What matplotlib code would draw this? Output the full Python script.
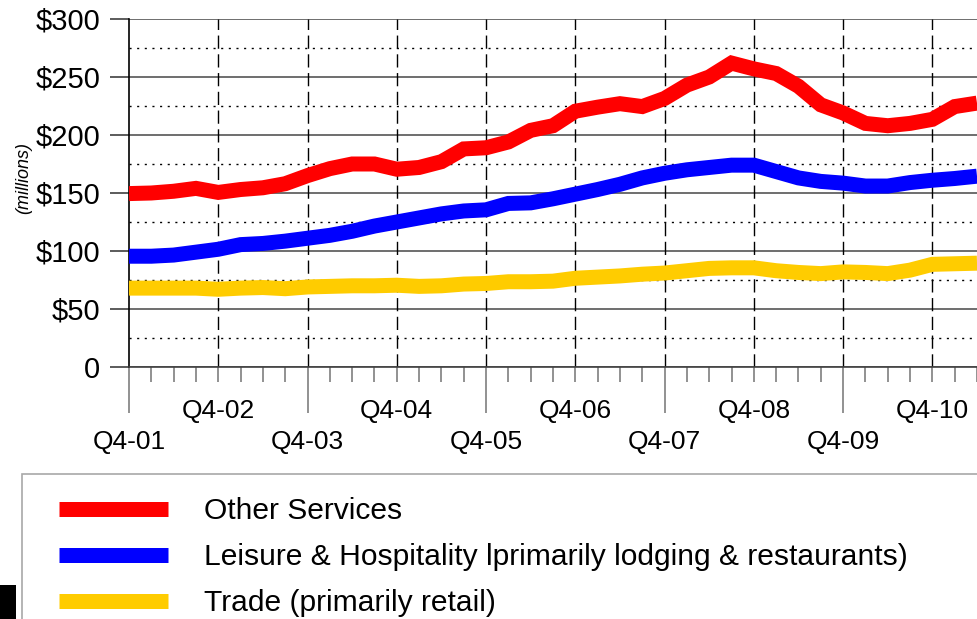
import matplotlib
matplotlib.use("Agg")
import matplotlib.pyplot as plt
from matplotlib.patches import Rectangle

plt.rcParams['font.family'] = ['Liberation Sans', 'DejaVu Sans']

# ---- data ----
quarters = ["Q4-01"] + [f"Q{q}-{y:02d}" for y in range(2, 12) for q in range(1, 5)]
quarters = quarters[:39]

series_names = ["Other Services",
                "Leisure & Hospitality lprimarily lodging & restaurants)",
                "Trade (primarily retail)"]
series_colors = ["#ff0000", "#0000ff", "#ffcc00"]

other_services = [149.5, 150, 151.5, 154, 150.5, 153, 154.5, 158, 165, 171,
                  175, 175, 170.5, 172, 177, 188, 189, 194, 204, 208,
                  220.5, 224, 227, 224.5, 231.5, 243, 250, 262, 257, 253,
                  242, 226, 219, 210, 208, 210, 213.5, 224.5, 227.5]
leisure_hospitality = [95.5, 95.5, 96.5, 99, 101.5, 105.5, 106.5, 108.5, 111, 113.5,
                       117, 121.5, 125, 128.5, 132, 134.5, 135.5, 141, 141.5, 145,
                       149, 153, 157.5, 163, 167, 170, 172, 174, 174, 168.5,
                       163, 160, 158.5, 156, 156, 159, 161, 162.5, 164.5]
trade = [68, 68, 68, 68, 67, 68, 68.5, 67.5, 69, 69.5,
         70, 70, 70.5, 69.5, 70, 71.5, 72, 73.5, 73.5, 74,
         76.5, 77.5, 78.5, 80, 81, 83, 85, 85.5, 85.5, 83,
         81.5, 80.5, 82, 81.5, 80.5, 83.5, 88.5, 89, 89.5]

y_ticks = [0, 50, 100, 150, 200, 250, 300]
y_tick_labels = ["0", "$50", "$100", "$150", "$200", "$250", "$300"]
y_minor = [25, 75, 125, 175, 225, 275]
row2_labels = ["Q4-01", "Q4-03", "Q4-05", "Q4-07", "Q4-09"]   # lower row, long ticks
row1_labels = ["Q4-02", "Q4-04", "Q4-06", "Q4-08", "Q4-10"]   # upper row

# ---- figure ----
W, H = 977, 619
fig = plt.figure(figsize=(W / 100, H / 100), dpi=100)
ax = fig.add_axes([129 / W, 1 - 367 / H, 1 - 129 / W, (367 - 19) / H])

x = list(range(len(quarters)))
lines = []
for vals, name, col in zip([other_services, leisure_hospitality, trade], series_names, series_colors):
    ln, = ax.plot(x, vals, color=col, lw=10.8, label=name, solid_capstyle='butt',
                  solid_joinstyle='miter', zorder=5)
    lines.append(ln)

ax.set_xlim(0, (W - 129) / 22.45)
ax.set_ylim(0, 300)

# vertical dashed lines at each Q4 (except the first)
for i, q in enumerate(quarters):
    if q.startswith("Q4") and i > 0:
        ax.axvline(i, color='black', lw=1.0, ls=(0, (9.5, 4)), zorder=2)

# x ticks
maj_idx = [quarters.index(l) for l in row2_labels]
ax.set_xticks(maj_idx, labels=row2_labels)
min_idx = [i for i in x if i not in maj_idx]
min_lab = [quarters[i] if quarters[i] in row1_labels else "" for i in min_idx]
ax.set_xticks(min_idx, labels=min_lab, minor=True)
ax.tick_params(axis='x', which='major', length=33, width=1.2, color='#7f7f7f',
               pad=12.5, labelsize=19)
ax.tick_params(axis='x', which='minor', length=10.8, width=1.2, color='#7f7f7f',
               pad=12, labelsize=19)

# y ticks
ax.set_yticks(y_ticks, labels=y_tick_labels)
ax.set_yticks(y_minor, minor=True)
ax.tick_params(axis='y', which='major', length=13.7, width=1.2, color='#404040',
               pad=7, labelsize=21)
ax.tick_params(axis='y', which='minor', length=0)
ax.grid(axis='y', which='major', color='#555555', lw=1.2, ls='-', zorder=1)
ax.grid(axis='y', which='minor', color='black', lw=1.0, ls=(0, (1.5, 4)), zorder=1)
ax.set_axisbelow(True)

for s in ['top', 'right']:
    ax.spines[s].set_visible(False)
ax.spines['left'].set_color('black')
ax.spines['left'].set_linewidth(1.2)
ax.spines['bottom'].set_color('#404040')
ax.spines['bottom'].set_linewidth(1.2)

fig.text(24 / W, 1 - 178 / H, "(millions)", rotation=90, style='italic',
         fontsize=13, ha='center', va='center')

# legend frame
fig.add_artist(Rectangle((22 / W, -0.1), 1.2, (1 - 474 / H) + 0.1,
                         transform=fig.transFigure, fill=False,
                         edgecolor='#a8a8a8', lw=1.2))
# black block bottom-left
fig.add_artist(Rectangle((0, 0), 16 / W, 34 / H, transform=fig.transFigure,
                         facecolor='black', edgecolor='none'))

fig.legend(handles=lines, loc='upper left', bbox_to_anchor=(59 / W, 1 - 497 / H),
           frameon=False, fontsize=21.6, handlelength=3.63, handletextpad=1.2,
           labelspacing=0.6, borderpad=0, borderaxespad=0)

fig.savefig("out.png", dpi=100)
